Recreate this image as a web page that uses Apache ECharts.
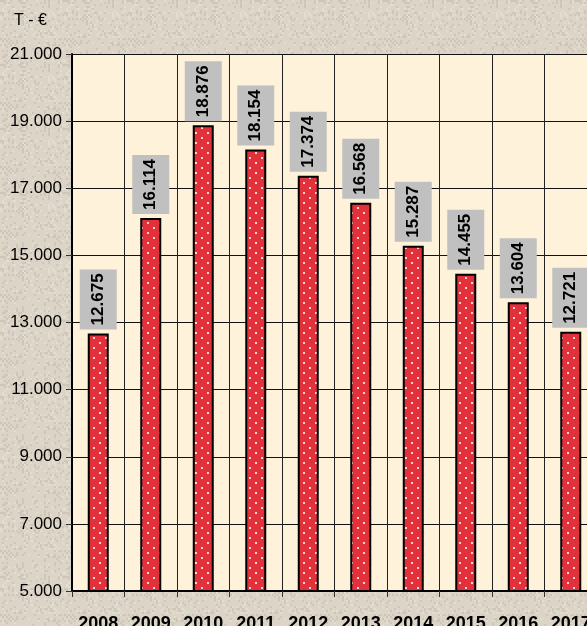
<!DOCTYPE html>
<html>
<head>
<meta charset="utf-8">
<script src="https://cdn.jsdelivr.net/npm/echarts@6/dist/echarts.min.js"></script>
<style>
  html, body { margin: 0; padding: 0; background: #ddd5c8; overflow: hidden; }
  #chart { width: 620px; height: 626px; }
</style>
</head>
<body>
<div id="chart"></div>
<script>
// data
var years = ['2008', '2009', '2010', '2011', '2012', '2013', '2014', '2015', '2016', '2017'];
var values = [12675, 16114, 18876, 18154, 17374, 16568, 15287, 14455, 13604, 12721];
var yMin = 5000, yMax = 21000, yStep = 2000;
var unitLabel = 'T - €';

// red fill with small white dots
function dotPattern() {
    var c = document.createElement('canvas');
    c.width = 12;
    c.height = 10;
    var g = c.getContext('2d');
    g.fillStyle = '#e2313b';
    g.fillRect(0, 0, 12, 10);
    g.fillStyle = '#f7d6d6';
    g.fillRect(3, 2, 2, 2);
    g.fillRect(9, 7, 2, 2);
    return c;
}

// parchment-like speckle for the page background (fixed hash, not data)
function paperTexture() {
    var c = document.createElement('canvas');
    c.width = 64;
    c.height = 64;
    var g = c.getContext('2d');
    g.fillStyle = '#dcd4c7';
    g.fillRect(0, 0, 64, 64);
    for (var y = 0; y < 64; y += 2) {
        for (var x = 0; x < 64; x += 2) {
            var h = ((x * 374761393 + y * 668265263) ^ (x * y * 2654435761)) >>> 0;
            h = (h ^ (h >>> 13)) * 1274126177 >>> 0;
            var k = h % 100;
            if (k < 15) {
                g.fillStyle = 'rgba(160,150,135,0.22)';
                g.fillRect(x, y, 2, 2);
            } else if (k > 85) {
                g.fillStyle = 'rgba(240,236,228,0.35)';
                g.fillRect(x, y, 2, 2);
            }
        }
    }
    return c.toDataURL();
}
document.body.style.background = 'url(' + paperTexture() + ')';

function fmt(v) {
    return (v / 1000).toFixed(3);
}

var font = '"Liberation Sans", Arial, sans-serif';
var myChart = echarts.init(document.getElementById('chart'));
var option = {
    backgroundColor: 'transparent',
    animation: false,
    graphic: [{
        type: 'text',
        left: 14,
        top: 13,
        style: { text: unitLabel, font: '16px ' + font, fill: '#000' }
    }],
    grid: {
        left: 72,
        top: 54,
        width: 525,
        height: 537,
        outerBoundsMode: 'none',
        containLabel: false,
        show: true,
        backgroundColor: '#fef2db',
        borderWidth: 0
    },
    xAxis: {
        type: 'category',
        data: years,
        axisLine: { lineStyle: { color: '#000', width: 2 } },
        axisTick: { show: true, length: 6, lineStyle: { color: '#333' } },
        splitLine: { show: true, lineStyle: { color: '#222', width: 1 } },
        axisLabel: {
            margin: 24,
            color: '#000',
            fontFamily: font,
            fontWeight: 'bold',
            fontSize: 18
        }
    },
    yAxis: {
        type: 'value',
        min: yMin,
        max: yMax,
        interval: yStep,
        axisLine: { show: true, lineStyle: { color: '#000', width: 2 } },
        axisTick: { show: true, length: 6, lineStyle: { color: '#333' } },
        splitLine: { show: true, lineStyle: { color: '#111', width: 1 } },
        axisLabel: {
            margin: 10,
            color: '#000',
            fontFamily: font,
            fontSize: 17,
            formatter: fmt
        }
    },
    series: [{
        type: 'bar',
        data: values,
        barWidth: 21,
        itemStyle: {
            color: { image: dotPattern(), repeat: 'repeat' },
            borderColor: '#000',
            borderWidth: 2
        },
        label: {
            show: true,
            position: 'top',
            rotate: 90,
            align: 'left',
            verticalAlign: 'middle',
            distance: 4,
            formatter: function (p) { return fmt(p.value); },
            color: '#000',
            fontFamily: font,
            fontWeight: 'bold',
            fontSize: 17,
            lineHeight: 17,
            backgroundColor: '#c0c0c0',
            padding: [10, 4, 10, 4]
        }
    }]
};
myChart.setOption(option);
</script>
</body>
</html>
